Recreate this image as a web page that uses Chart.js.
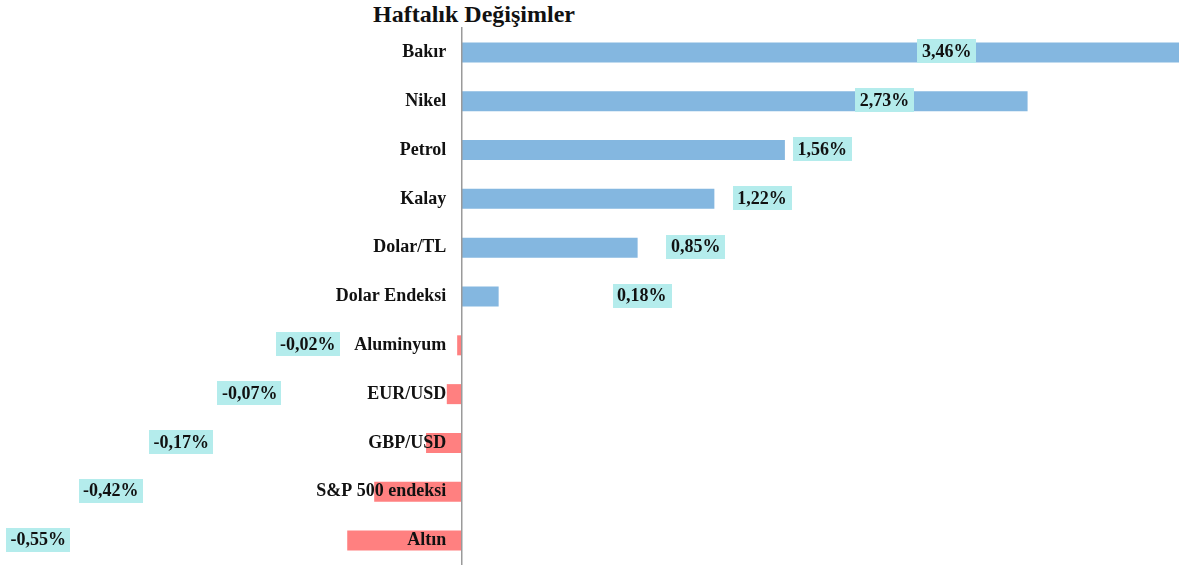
<!DOCTYPE html>
<html lang="tr">
<head>
<meta charset="utf-8">
<script src="https://cdn.jsdelivr.net/npm/chart.js@4/dist/chart.umd.min.js"></script>
<style>
  html, body { margin: 0; padding: 0; background: #ffffff; }
  #wrap { position: relative; width: 1179px; height: 565px; }
  #title {
    position: absolute; left: 373px; top: 2px; width: 200px;
    text-align: center; white-space: nowrap;
    font: bold 24px "Liberation Serif", "Times New Roman", serif;
    line-height: 24px; color: #111;
  }
  canvas { position: absolute; left: 0; top: 0; }
</style>
</head>
<body>
<div id="wrap">
  <div id="title">Haftalık Değişimler</div>
  <canvas id="c" width="1179" height="565"></canvas>
</div>
<script>
// ---- data ----
const categories = ["Bakır", "Nikel", "Petrol", "Kalay", "Dolar/TL", "Dolar Endeksi",
                    "Aluminyum", "EUR/USD", "GBP/USD", "S&P 500 endeksi", "Altın"];
const weeklyChange = [3.46, 2.73, 1.56, 1.22, 0.85, 0.18, -0.02, -0.07, -0.17, -0.42, -0.55];
// where each value label sits along the value axis (as in the reference)
const labelAnchor = [2.34, 2.04, 1.74, 1.45, 1.13, 0.87, -0.74, -1.02, -1.35, -1.69, -2.04];
const axisMin = -2.224;
const axisMax = 3.46;

const CANVAS_W = 1179;
const LABEL_GAP_PX = 15;
const labelAxisAt = -LABEL_GAP_PX * (axisMax - axisMin) / CANVAS_W;

const fmt = v => v.toFixed(2).replace('.', ',') + '%';
const serif = '"Liberation Serif", "Times New Roman", serif';
const noPad = s => { s.paddingTop = 0; s.paddingBottom = 0; s.paddingLeft = 0; s.paddingRight = 0; };

const valueLabels = {
  id: 'valueLabels',
  afterDatasetsDraw(chart) {
    const ctx = chart.ctx;
    const meta = chart.getDatasetMeta(0);
    const xs = chart.scales.x;
    ctx.save();
    ctx.font = 'bold 18px ' + serif;
    ctx.textAlign = 'center';
    ctx.textBaseline = 'middle';
    meta.data.forEach((bar, i) => {
      const txt = fmt(weeklyChange[i]);
      const cx = xs.getPixelForValue(labelAnchor[i]);
      const cy = bar.y - 1;
      const w = ctx.measureText(txt).width + 9;
      const h = 24;
      ctx.fillStyle = '#b4ecec';
      ctx.fillRect(Math.round(cx - w / 2), Math.round(cy - h / 2), Math.round(w), h);
      ctx.fillStyle = '#111111';
      ctx.fillText(txt, cx, cy + 1);
    });
    ctx.restore();
  }
};

new Chart(document.getElementById('c'), {
  type: 'bar',
  data: {
    labels: categories,
    datasets: [{
      data: weeklyChange,
      yAxisID: 'y',
      backgroundColor: weeklyChange.map(v => v >= 0 ? 'rgb(132,183,224)' : 'rgb(255,128,128)'),
      borderWidth: 0,
      barPercentage: 0.41,
      categoryPercentage: 1.0
    }]
  },
  options: {
    indexAxis: 'y',
    responsive: false,
    animation: false,
    layout: { padding: { top: 28, left: 0, right: 0, bottom: 0 } },
    plugins: { legend: { display: false }, tooltip: { enabled: false }, title: { display: false } },
    scales: {
      x: {
        type: 'linear', min: axisMin, max: axisMax,
        display: false
      },
      y: {
        type: 'category',
        position: { x: 0 },
        offset: true,
        grid: { display: false, drawTicks: false },
        border: { display: true, color: '#9a9a9a', width: 1.5, z: 1 },
        ticks: { display: false },
        afterFit: noPad
      },
      yLabels: {
        type: 'category',
        labels: categories,
        position: { x: labelAxisAt },
        offset: true,
        grid: { display: false, drawTicks: false },
        border: { display: false },
        ticks: {
          z: 1,
          padding: 0,
          color: '#111111',
          font: { family: serif, size: 18, weight: 'bold' }
        },
        afterFit: noPad
      }
    }
  },
  plugins: [valueLabels]
});
</script>
</body>
</html>
